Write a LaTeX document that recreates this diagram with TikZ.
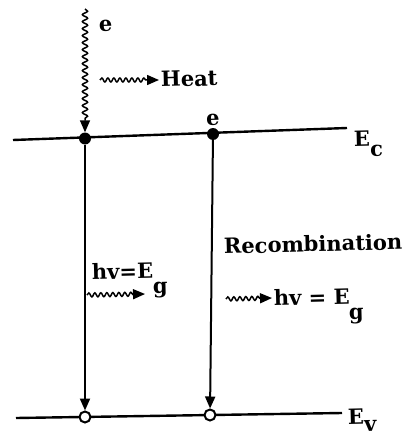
\documentclass[tikz,border=0pt]{standalone}
\usepackage{fontspec}
\setmainfont{DejaVu Serif}
\usetikzlibrary{arrows.meta,decorations.pathmorphing}
\begin{document}
\begin{tikzpicture}[x=1pt,y=-1pt,
  lvl/.style={line width=2.4pt},
  fdot/.style={circle,fill=black,inner sep=0pt,minimum size=12pt},
  odot/.style={circle,draw=black,fill=white,line width=2pt,inner sep=0pt,minimum size=11pt},
  tip/.style={-{Triangle[length=12pt,width=10pt]}},
  vline/.style={line width=2pt,tip},
  wav/.style={line width=1.5pt,decorate,decoration={snake,amplitude=2.6pt,segment length=7pt,post length=11pt}},
  lbl/.style={inner sep=0pt,rotate=1.5,font=\fontsize{21}{25}\selectfont\bfseries}
]
\useasboundingbox (0,0) rectangle (411,441);
% levels
\coordinate (ecL) at (13,140);
\coordinate (ecR) at (347,128);
\coordinate (evL) at (16,418);
\coordinate (evR) at (342,413);
\draw[lvl] (ecL) -- (ecR);
\draw[lvl] (evL) -- (evR);
\node[lbl,anchor=base west] (ec) at (354,147) {E\raisebox{-10pt}{c}};
\node[lbl,anchor=base west] (ev) at (348,424) {E\raisebox{-8pt}{v}};
% dots
\coordinate (top) at (85,9);
\node[fdot] (d1) at (85,138.5) {};
\node[fdot] (d2) at (213,134) {};
\node[odot] (h1) at (85,417) {};
\node[odot] (h2) at (210,415) {};
% incoming electron
\draw[wav,tip] (top) -- (d1.north);
\node[lbl,anchor=base west] (e1) at (99,32) {e};
\node[lbl,anchor=base] (e2) at (213,125) {e};
% heat
\coordinate (hs) at (100,80);
\coordinate (he) at (159,80);
\draw[wav,tip,decoration={amplitude=2pt,segment length=6pt}] (hs) -- (he);
\node[lbl,anchor=base west] (heat) at (161,87) {Heat};
% transitions
\draw[vline] (d1) -- (h1);
\draw[vline] (d2) -- (h2);
% left photon
\node[lbl,anchor=base west] (hv1) at (92,280) {hv=E};
\node[lbl,anchor=base west] (g1) at (153,294) {g};
\coordinate (w1s) at (87,295);
\coordinate (w1e) at (145,294);
\draw[wav,tip,decoration={amplitude=2pt,segment length=6pt}] (w1s) -- (w1e);
% right
\node[lbl,anchor=base west] (rec) at (224,254) {Recombination};
\coordinate (w2s) at (226,299);
\coordinate (w2e) at (272,298);
\draw[wav,tip,decoration={amplitude=2pt,segment length=6pt}] (w2s) -- (w2e);
\node[lbl,anchor=base west] (hv2) at (274,306) {hv = E};
\node[lbl,anchor=base west] (g2) at (349,320) {g};
\end{tikzpicture}
\end{document}
